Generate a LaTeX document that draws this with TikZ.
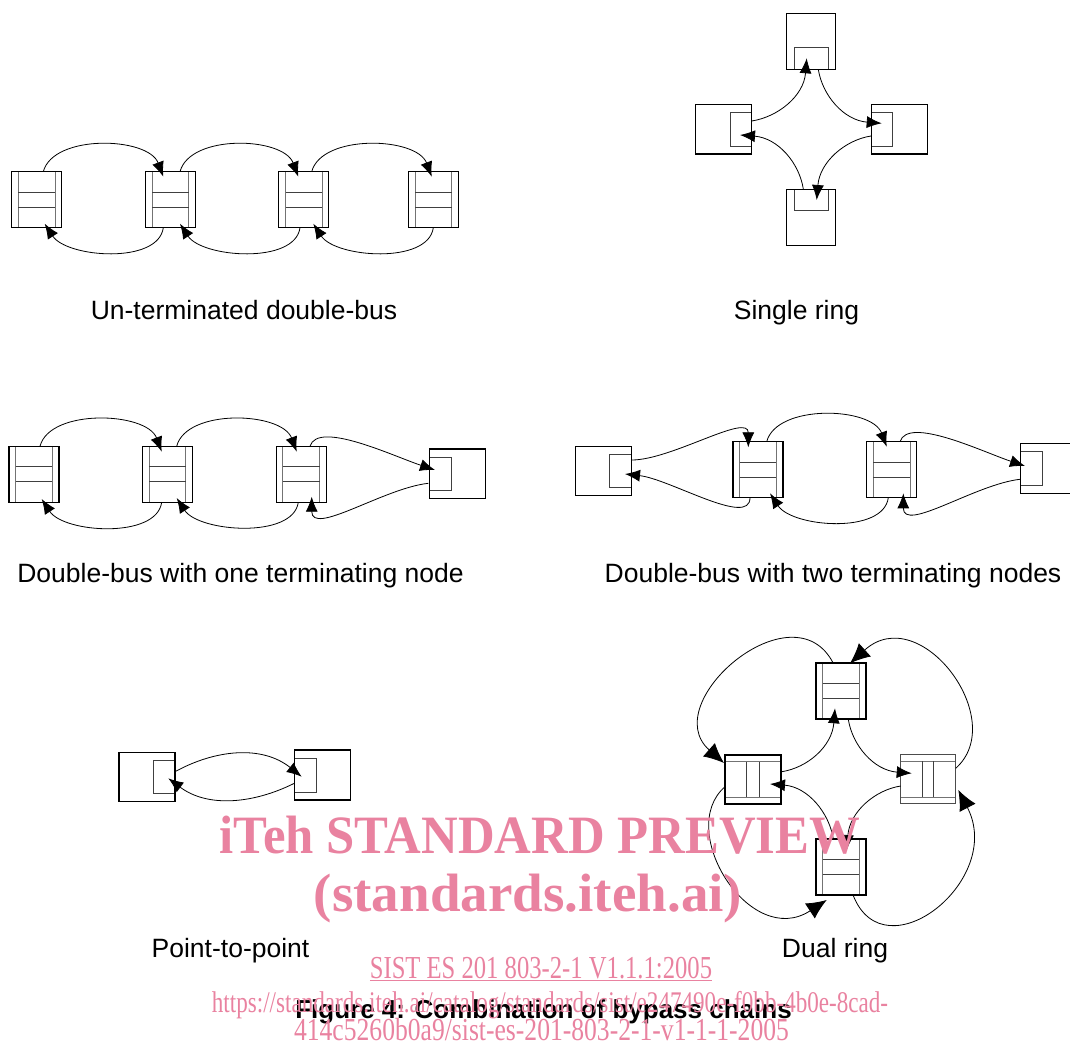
\documentclass[tikz,border=0pt]{standalone}
\usepackage{fontspec}
\setmainfont{Liberation Sans}
\newfontfamily\markfontA{Liberation Serif}[FakeStretch=0.94]
\newfontfamily\markfontC{Liberation Serif}[FakeStretch=1.02]
\newfontfamily\markfontB{Liberation Serif}[FakeStretch=0.77]
\newfontfamily\markfontD{Liberation Serif}[FakeStretch=0.8]
\usetikzlibrary{arrows.meta}
\definecolor{markpink}{RGB}{233,130,160}
\newcommand\ppb{path picture bounding box}
\tikzset{
  box/.style={draw=black, line width=1.1pt, rectangle, inner sep=0pt, outer sep=0pt},
  heavy/.style={line width=1.7pt},
  light/.style={draw=black!70, line width=1pt},
  innerln/.style={draw=black!75, line width=0.9pt},
  % bypass node drawn as an upright H
  hnode/.style={box, minimum width=50pt, minimum height=56pt, path picture={
    \draw[innerln, draw=black!55] ([xshift=6.7pt]\ppb.north west) -- ([xshift=6.7pt]\ppb.south west);
    \draw[innerln, draw=black!55] ([xshift=-6.7pt]\ppb.north east) -- ([xshift=-6.7pt]\ppb.south east);
    \draw[innerln] ([shift={(6.7pt,-20.6pt)}]\ppb.north west) -- ([shift={(-6.7pt,-20.6pt)}]\ppb.north east);
    \draw[innerln] ([shift={(6.7pt,20.6pt)}]\ppb.south west) -- ([shift={(-6.7pt,20.6pt)}]\ppb.south east);
  }},
  % bypass node turned on its side
  inode/.style={box, minimum width=56pt, minimum height=49pt, path picture={
    \draw[innerln, draw=black!55] ([yshift=-6.7pt]\ppb.north west) -- ([yshift=-6.7pt]\ppb.north east);
    \draw[innerln, draw=black!55] ([yshift=6.7pt]\ppb.south west) -- ([yshift=6.7pt]\ppb.south east);
    \draw[innerln] ([shift={(21.7pt,-6.7pt)}]\ppb.north west) -- ([shift={(21.7pt,6.7pt)}]\ppb.south west);
    \draw[innerln] ([shift={(-21.7pt,-6.7pt)}]\ppb.north east) -- ([shift={(-21.7pt,6.7pt)}]\ppb.south east);
  }},
  % terminating nodes with one port
  tvert/.style={box, minimum width=49pt, minimum height=56pt},
  thorz/.style={box, minimum width=56pt, minimum height=49.5pt},
  portS/.style={path picture={\draw[innerln] ([xshift=7.6pt]\ppb.south west) rectangle ([shift={(-7.6pt,21.5pt)}]\ppb.south east);}},
  portN/.style={path picture={\draw[innerln] ([xshift=7.6pt]\ppb.north west) rectangle ([shift={(-7.6pt,-21pt)}]\ppb.north east);}},
  portE/.style={path picture={\draw[innerln] ([yshift=-8pt]\ppb.north east) rectangle ([shift={(-21.7pt,8pt)}]\ppb.south east);}},
  portW/.style={path picture={\draw[innerln] ([yshift=-8pt]\ppb.north west) rectangle ([shift={(21.7pt,8pt)}]\ppb.south west);}},
  sa/.style={draw=black, line width=0.8pt, -{Latex[length=15pt,width=12pt]}},
  ba/.style={draw=black, line width=0.8pt, -{Latex[length=20pt,width=18pt]}},
  lbl/.style={font=\fontsize{26.5}{30}\selectfont, anchor=base, inner sep=0pt},
  stamp/.style={text=markpink, anchor=base, inner sep=0pt},
}
\begin{document}
\begin{tikzpicture}[x=1pt, y=-1pt]
\useasboundingbox (0,0) rectangle (1070,1046);
\clip (0,0) rectangle (1070,1046);

% ---------- un-terminated double-bus ----------
\node[hnode] (hA1) at (36.7,199.7) {};
\node[hnode] (hA2) at (170.3,199.7) {};
\node[hnode] (hA3) at (303.8,199.7) {};
\node[hnode] (hA4) at (433.3,199.7) {};
\draw[sa] ([shift={(6.6,-28)}]hA1.center) .. controls +(10,-38) and +(-15,-40) .. ([shift={(-7,-23)}]hA2.center);
\draw[sa] ([shift={(9.7,-28)}]hA2.center) .. controls +(10,-38) and +(-15,-40) .. ([shift={(-5.5,-23)}]hA3.center);
\draw[sa] ([shift={(7.9,-28)}]hA3.center) .. controls +(10,-38) and +(-15,-40) .. ([shift={(-1.6,-23)}]hA4.center);
\draw[sa] ([shift={(-7,28)}]hA2.center) .. controls +(-5,37) and +(22,34) .. ([shift={(8,24)}]hA1.center);
\draw[sa] ([shift={(-3.8,28)}]hA3.center) .. controls +(-5,37) and +(22,34) .. ([shift={(9.7,24)}]hA2.center);
\draw[sa] ([shift={(0,28)}]hA4.center) .. controls +(-5,37) and +(22,34) .. ([shift={(9.5,24)}]hA3.center);
\node[lbl] (labA) at (244,319) {Un-terminated double-bus};

% ---------- single ring ----------
\node[tvert, portS] (sT) at (811.2,41.3) {};
\node[thorz, portE] (sL) at (723.7,129.2) {};
\node[thorz, portW] (sR) at (899.2,129.2) {};
\node[tvert, portN] (sB) at (811.2,217.3) {};
\draw[sa] ([shift={(28,-8.2)}]sL.center) .. controls +(26,-4) and +(-3,38) .. ([shift={(-4.5,17)}]sT.center);
\draw[sa] ([shift={(7.1,28)}]sT.center) .. controls +(4,26) and +(-38,-3) .. ([shift={(-17.5,-5.9)}]sR.center);
\draw[sa] ([shift={(-28.2,6.8)}]sR.center) .. controls +(-26,4) and +(3,-38) .. ([shift={(5.5,-17.3)}]sB.center);
\draw[sa] ([shift={(-7.9,-28.3)}]sB.center) .. controls +(-4,-26) and +(38,3) .. ([shift={(16.3,5.8)}]sL.center);
\node[lbl] (labS) at (796.5,319) {Single ring};

% ---------- double-bus with one terminating node ----------
\node[hnode] (hB1) at (34,474.2) {};
\node[hnode] (hB2) at (167.4,474.2) {};
\node[hnode] (hB3) at (301.2,474.2) {};
\node[thorz, portW] (tB) at (457.4,473.7) {};
\draw[sa] ([shift={(6,-28)}]hB1.center) .. controls +(10,-38) and +(-15,-40) .. ([shift={(-5.7,-22.5)}]hB2.center);
\draw[sa] ([shift={(9.3,-28)}]hB2.center) .. controls +(10,-38) and +(-15,-40) .. ([shift={(-4.5,-22.5)}]hB3.center);
\draw[sa] ([shift={(8.8,-28)}]hB3.center) .. controls +(8,-26) and +(-42,-14) .. ([shift={(-22.4,-3.7)}]tB.center);
\draw[sa] ([shift={(-5.7,28)}]hB2.center) .. controls +(-5,37) and +(22,34) .. ([shift={(7.7,24.8)}]hB1.center);
\draw[sa] ([shift={(-2.9,28)}]hB3.center) .. controls +(-5,37) and +(22,34) .. ([shift={(9.3,23.8)}]hB2.center);
\draw[sa] ([shift={(-29.1,9.6)}]tB.center) .. controls +(-45,5) and +(0,40) .. ([shift={(10.5,22.5)}]hB3.center);
\node[lbl] (labB) at (240.5,582) {Double-bus with one terminating node};

% ---------- double-bus with two terminating nodes ----------
\node[thorz, portE] (tL) at (603.4,470.9) {};
\node[hnode] (hC1) at (758,469.7) {};
\node[hnode] (hC2) at (891.7,469.7) {};
\node[thorz, portW] (tR) at (1048.4,468.3) {};
\draw[sa] ([shift={(28.3,-10.9)}]tL.center) .. controls +(40,0) and +(0,-35) .. ([shift={(-9.7,-22.4)}]hC1.center);
\draw[sa] ([shift={(8.7,-28)}]hC1.center) .. controls +(10,-38) and +(-15,-40) .. ([shift={(-5,-23)}]hC2.center);
\draw[sa] ([shift={(8.3,-28)}]hC2.center) .. controls +(8,-26) and +(-42,-14) .. ([shift={(-23.4,-2.3)}]tR.center);
\draw[sa] ([shift={(-28.4,11)}]tR.center) .. controls +(-45,5) and +(0,40) .. ([shift={(11.6,23.6)}]hC2.center);
\draw[sa] ([shift={(-3.4,28)}]hC2.center) .. controls +(-5,37) and +(22,34) .. ([shift={(12,23.6)}]hC1.center);
\draw[sa] ([shift={(-8,28)}]hC1.center) .. controls +(0,30) and +(45,5) .. ([shift={(21.6,3.1)}]tL.center);
\node[lbl] (labC) at (833,582) {Double-bus with two terminating nodes};

% ---------- point-to-point ----------
\node[thorz, portE, minimum height=49pt] (pL) at (147,777.2) {};
\node[thorz, portW, minimum height=50pt] (pR) at (322.7,775) {};
\draw[sa] ([shift={(28,-5.5)}]pL.center) .. controls +(40,-22) and +(-40,-32) .. ([shift={(-21,1.7)}]pR.center);
\draw[sa] ([shift={(-28.4,8.3)}]pR.center) .. controls +(-40,20) and +(40,30) .. ([shift={(21.3,1.1)}]pL.center);
\node[lbl] (labP) at (230.5,957) {Point-to-point};

% ---------- dual ring ----------
\node[hnode, heavy] (dT) at (840.8,690.8) {};
\node[inode, heavy] (dL) at (753,779.5) {};
\node[inode, light, minimum width=55pt] (dR) at (927.8,779.2) {};
\node[hnode, heavy] (dB) at (840.8,867.3) {};
\draw[sa] ([shift={(28.7,-7.8)}]dL.center) .. controls +(26,-4) and +(-3,38) .. ([shift={(-5.8,17.5)}]dT.center);
\draw[sa] ([shift={(7.5,28.5)}]dT.center) .. controls +(4,26) and +(-38,-3) .. ([shift={(-16.1,-5.9)}]dR.center);
\draw[sa] ([shift={(-27.1,6.8)}]dR.center) .. controls +(-26,4) and +(3,-38) .. ([shift={(5.9,-17.3)}]dB.center);
\draw[sa] ([shift={(-7.5,-28.3)}]dB.center) .. controls +(-4,-26) and +(38,3) .. ([shift={(17,4.5)}]dL.center);
\draw[ba] ([shift={(-7.5,-27.5)}]dT.center) .. controls +(-40,-78) and +(-68,-60) .. ([shift={(-29,-16.5)}]dL.center);
\draw[ba] ([shift={(-28,7.2)}]dL.center) .. controls +(-50,43.3) and +(-76.7,50) .. ([shift={(-14.1,32.7)}]dB.center);
\draw[ba] ([shift={(12.5,28.4)}]dB.center) .. controls +(31.7,79.3) and +(46.7,90) .. ([shift={(30.5,10.8)}]dR.center);
\draw[ba] ([shift={(27.9,-10.9)}]dR.center) .. controls +(54.3,-48.3) and +(70,-63.3) .. ([shift={(9.2,-27.5)}]dT.center);
\node[lbl] (labD) at (835,957) {Dual ring};

% ---------- caption ----------
\node[anchor=base, inner sep=0pt, font=\bfseries\fontsize{26}{30}\selectfont] (cap) at (543.5,1018.3) {Figure 4: Combination of bypass chains};

% ---------- stamp text ----------
\node[stamp, font=\markfontA\bfseries\fontsize{54}{60}\selectfont] (mk1) at (540,853) {iTeh STANDARD PREVIEW};
\node[stamp, font=\markfontC\bfseries\fontsize{54}{60}\selectfont] (mk2) at (528,911) {(standards.iteh.ai)};
\node[stamp, font=\markfontB\fontsize{32}{36}\selectfont] (mk3) at (541,978) {\underline{SIST ES 201 803-2-1 V1.1.1:2005}};
\node[stamp, font=\markfontB\fontsize{30}{34}\selectfont] (mk4) at (550,1012) {https://standards.iteh.ai/catalog/standards/sist/e247490e-f0bb-4b0e-8cad-};
\node[stamp, font=\markfontD\fontsize{32}{36}\selectfont] (mk5) at (541.5,1040.7) {414c5260b0a9/sist-es-201-803-2-1-v1-1-1-2005};
\end{tikzpicture}
\end{document}
